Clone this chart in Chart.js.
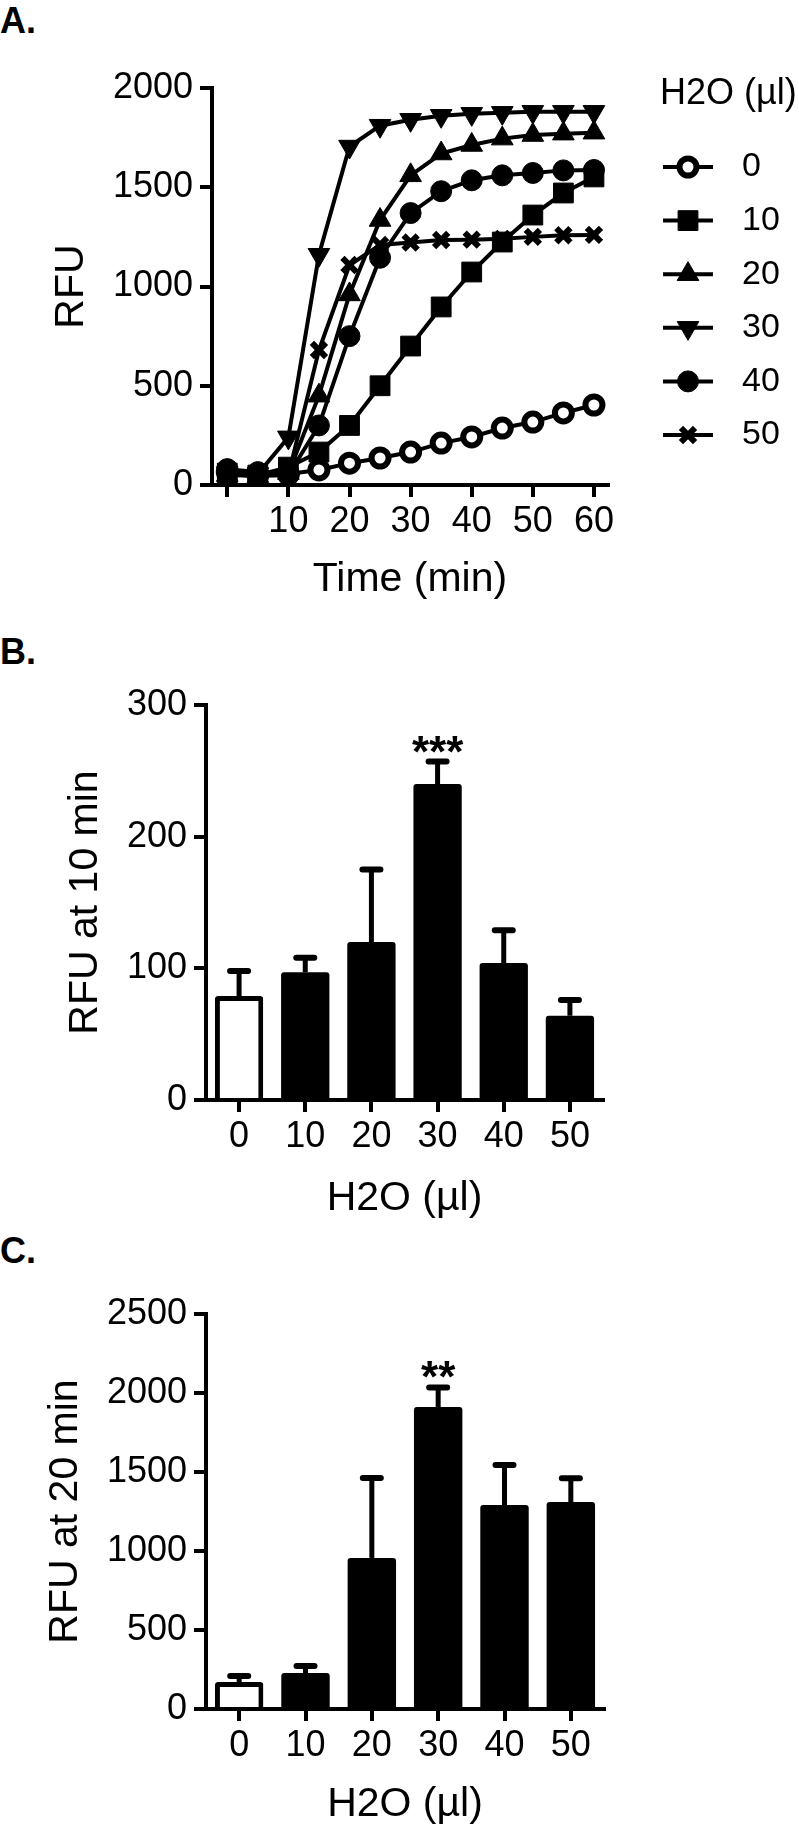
<!DOCTYPE html>
<html><head><meta charset="utf-8">
<script src="https://cdn.jsdelivr.net/npm/chart.js@4/dist/chart.umd.min.js"></script>
<style>
html,body{margin:0;padding:0;background:#fff;overflow:hidden;width:799px;height:1831px;}
.wrap{position:absolute;left:0;width:799px;}
.lbl{position:absolute;left:0;font:bold 36px "Liberation Sans",Arial,sans-serif;color:#000;line-height:1;}
</style></head><body>
<div class="lbl" style="top:3px">A.</div>
<div class="lbl" style="top:634px">B.</div>
<div class="lbl" style="top:1233px">C.</div>
<div class="wrap" style="top:0;height:620px"><canvas id="cA" width="799" height="620"></canvas></div>
<div class="wrap" style="top:620px;height:610px"><canvas id="cB" width="799" height="610"></canvas></div>
<div class="wrap" style="top:1230px;height:601px"><canvas id="cC" width="799" height="601"></canvas></div>
<script>
// ---------- DATA ----------
const timeMin = [0, 5, 10, 15, 20, 25, 30, 35, 40, 45, 50, 55, 60];
const seriesLabels = ['0', '10', '20', '30', '40', '50'];
const rfuH2O0  = [65, 50, 55, 76, 110, 136, 166, 211, 242, 287, 317, 363, 403];
const rfuH2O10 = [60, 50, 90, 166, 300, 500, 700, 897, 1073, 1224, 1360, 1471, 1552];
const rfuH2O20 = [50, 45, 60, 450, 960, 1335, 1560, 1670, 1713, 1745, 1763, 1770, 1775];
const rfuH2O30 = [60, 55, 240, 1160, 1705, 1810, 1840, 1860, 1870, 1875, 1880, 1880, 1880];
const rfuH2O40 = [80, 65, 50, 300, 750, 1145, 1370, 1480, 1535, 1560, 1572, 1585, 1587];
const rfuH2O50 = [55, 45, 50, 680, 1108, 1209, 1222, 1234, 1236, 1240, 1250, 1258, 1260];
const timeTicks = [0, 10, 20, 30, 40, 50, 60];
const timeTickLabels = ['', '10', '20', '30', '40', '50', '60'];
const rfuTicksA = [0, 500, 1000, 1500, 2000];
const rfuTickLabelsA = ['0', '500', '1000', '1500', '2000'];

const waterCats = ['0', '10', '20', '30', '40', '50'];
const meanB = [79, 97, 120, 240, 104, 64];
const errB  = [19, 11, 55, 17, 25, 12];
const sigB  = ['', '', '', '***', '', ''];
const rfuTicksB = [0, 100, 200, 300];
const rfuTickLabelsB = ['0', '100', '200', '300'];

const meanC = [171, 228, 956, 1911, 1291, 1310];
const errC  = [38, 44, 506, 124, 253, 150];
const sigC  = ['', '', '', '**', '', ''];
const rfuTicksC = [0, 500, 1000, 1500, 2000, 2500];
const rfuTickLabelsC = ['0', '500', '1000', '1500', '2000', '2500'];

// ---------- STYLE ----------
const FONT = '"Liberation Sans", Arial, Helvetica, sans-serif';
const INK = '#000';
const markerStyles = [
  {pointStyle: 'circle',   radius: 8.5,  bw: 6, bg: '#fff', rot: 0,   order: 6},
  {pointStyle: 'rect',     radius: 14,   bw: 1, bg: INK,    rot: 0,   order: 5},
  {pointStyle: 'triangle', radius: 12.5, bw: 1, bg: INK,    rot: 0,   order: 4},
  {pointStyle: 'triangle', radius: 12.5, bw: 1, bg: INK,    rot: 180, order: 3},
  {pointStyle: 'circle',   radius: 10.5, bw: 1, bg: INK,    rot: 0,   order: 1},
  {pointStyle: 'crossRot', radius: 10,   bw: 6, bg: INK,    rot: 0,   order: 2}
];
const seriesData = [rfuH2O0, rfuH2O10, rfuH2O20, rfuH2O30, rfuH2O40, rfuH2O50];

function tickFont(){ return {family: FONT, size: 36}; }
function titleFont(){ return {family: FONT, size: 41}; }
function gridOpts(){ return {display: true, drawOnChartArea: false, drawTicks: true, tickLength: 12, lineWidth: 4, color: INK}; }
function borderOpts(){ return {display: true, width: 4, color: INK}; }

function yAxis(ticks, labels, title, width) {
  return {
    type: 'linear', position: 'left', min: ticks[0], max: ticks[ticks.length - 1],
    afterBuildTicks: s => { s.ticks = ticks.map(v => ({value: v})); },
    afterFit: s => { s.width = width; },
    ticks: {font: tickFont(), color: INK, padding: 7, autoSkip: false, callback: (v, i) => labels[i]},
    grid: gridOpts(), border: borderOpts(),
    title: {display: true, text: title, font: titleFont(), color: INK, padding: {top: 4, bottom: 4}}
  };
}

// ---------- PANEL A ----------
const legendA = {
  id: 'legendA',
  afterDraw(chart) {
    const ctx = chart.ctx;
    ctx.save();
    ctx.fillStyle = INK;
    ctx.font = '36px ' + FONT;
    ctx.textAlign = 'left'; ctx.textBaseline = 'middle';
    ctx.fillText('H2O (µl)', 660, 94);
    chart.data.datasets.forEach((ds, i) => {
      const y = 167 + i * 53.6;
      ctx.strokeStyle = INK; ctx.lineWidth = 4; ctx.lineCap = 'butt';
      ctx.beginPath(); ctx.moveTo(663, y); ctx.lineTo(713, y); ctx.stroke();
      ctx.fillStyle = ds.pointBackgroundColor; ctx.strokeStyle = INK; ctx.lineWidth = ds.pointBorderWidth;
      Chart.helpers.drawPoint(ctx, {pointStyle: ds.pointStyle, rotation: ds.pointRotation, radius: ds.pointRadius, borderWidth: ds.pointBorderWidth}, 688, y);
      ctx.fillStyle = INK;
      ctx.font = '34px ' + FONT;
      ctx.fillText(ds.label, 742, y);
    });
    ctx.restore();
  }
};

new Chart(document.getElementById('cA'), {
  type: 'line',
  data: {
    labels: timeMin,
    datasets: seriesData.map((arr, i) => ({
      label: seriesLabels[i],
      data: timeMin.map((t, j) => ({x: t, y: arr[j]})),
      borderColor: INK, borderWidth: 4, tension: 0, fill: false, clip: false,
      pointStyle: markerStyles[i].pointStyle, pointRotation: markerStyles[i].rot,
      pointRadius: markerStyles[i].radius, pointBorderWidth: markerStyles[i].bw,
      pointBackgroundColor: markerStyles[i].bg, pointBorderColor: INK,
      order: markerStyles[i].order
    }))
  },
  options: {
    responsive: false, animation: false, devicePixelRatio: 1,
    layout: {padding: {left: 43, right: 191, top: 88, bottom: 12}},
    plugins: {legend: {display: false}, tooltip: {enabled: false}},
    scales: {
      x: {
        type: 'linear', min: -2.5, max: 62.3,
        afterBuildTicks: s => { s.ticks = timeTicks.map(v => ({value: v})); },
        afterFit: s => { s.height = 123; },
        ticks: {font: tickFont(), color: INK, padding: 3, autoSkip: false, maxRotation: 0, callback: (v, i) => timeTickLabels[i]},
        grid: gridOpts(), border: borderOpts(),
        title: {display: true, text: 'Time (min)', font: titleFont(), color: INK, padding: {top: 4, bottom: 4}}
      },
      y: yAxis(rfuTicksA, rfuTickLabelsA, 'RFU', 169)
    }
  },
  plugins: [legendA]
});

// ---------- PANELS B & C ----------
function errPlugin(means, errs, sigs) {
  return {
    id: 'errbars',
    afterDatasetsDraw(chart) {
      const ctx = chart.ctx;
      const ys = chart.scales.y;
      const meta = chart.getDatasetMeta(0);
      ctx.save();
      meta.data.forEach((el, i) => {
        const x = el.x;
        const yTop = ys.getPixelForValue(means[i] + errs[i]);
        const yBar = ys.getPixelForValue(means[i]);
        ctx.strokeStyle = INK;
        ctx.lineWidth = 5; ctx.lineCap = 'butt';
        ctx.beginPath(); ctx.moveTo(x, yBar); ctx.lineTo(x, yTop); ctx.stroke();
        ctx.lineWidth = 6; ctx.lineCap = 'round';
        ctx.beginPath(); ctx.moveTo(x - 9, yTop); ctx.lineTo(x + 9, yTop); ctx.stroke();
        if (sigs[i]) {
          ctx.fillStyle = INK;
          ctx.font = 'bold 44px ' + FONT;
          ctx.textAlign = 'center'; ctx.textBaseline = 'alphabetic';
          ctx.fillText(sigs[i], x, yTop + 5);
        }
      });
      ctx.restore();
    }
  };
}

function barChart(id, means, errs, sigs, ticks, tickLabels, title, pad, yWidth, xHeight, titlePadB) {
  new Chart(document.getElementById(id), {
    type: 'bar',
    data: {
      labels: waterCats,
      datasets: [{
        data: means,
        backgroundColor: means.map((v, i) => i === 0 ? '#fff' : INK),
        borderColor: INK,
        borderWidth: means.map((v, i) => i === 0 ? 5 : 0),
        borderRadius: 3, borderSkipped: 'start',
        barPercentage: 0.73, categoryPercentage: 1
      }]
    },
    options: {
      responsive: false, animation: false, devicePixelRatio: 1,
      layout: {padding: pad},
      plugins: {legend: {display: false}, tooltip: {enabled: false}},
      scales: {
        x: {
          type: 'category', offset: true,
          afterFit: s => { s.height = xHeight; },
          ticks: {font: tickFont(), color: INK, padding: 3, autoSkip: false, maxRotation: 0},
          grid: Object.assign(gridOpts(), {offset: false}), border: borderOpts(),
          title: {display: true, text: 'H2O (µl)', font: titleFont(), color: INK, padding: {top: 4, bottom: titlePadB}}
        },
        y: yAxis(ticks, tickLabels, title, yWidth)
      }
    },
    plugins: [errPlugin(means, errs, sigs)]
  });
}

barChart('cB', meanB, errB, sigB, rfuTicksB, rfuTickLabelsB, 'RFU at 10 min',
  {left: 57, right: 196, top: 85, bottom: 3}, 149, 127, 4);
barChart('cC', meanC, errC, sigC, rfuTicksC, rfuTickLabelsC, 'RFU at 20 min',
  {left: 37, right: 195, top: 84, bottom: 0}, 169, 122, 2);
</script>
</body></html>
